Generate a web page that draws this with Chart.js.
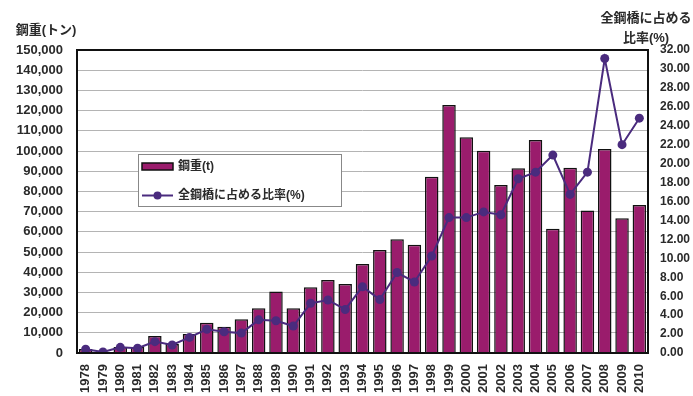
<!DOCTYPE html>
<html>
<head>
<meta charset="utf-8">
<script src="https://cdn.jsdelivr.net/npm/chart.js@4"></script>
<style>
  html, body { margin: 0; padding: 0; background: #fff; }
  #wrap { width: 693px; height: 396px; }
</style>
</head>
<body>
<div id="wrap"><canvas id="graphKoju"></canvas></div>
<script>
// 年ごとの鋼重と全鋼橋に占める比率
var annees = ["1978","1979","1980","1981","1982","1983","1984","1985","1986","1987",
              "1988","1989","1990","1991","1992","1993","1994","1995","1996","1997",
              "1998","1999","2000","2001","2002","2003","2004","2005","2006","2007",
              "2008","2009","2010"];

var koju = [2000, 500, 3000, 3000, 8400, 4500, 9400, 15000, 13000, 16700,
            22100, 30400, 22100, 32500, 36100, 34200, 44000, 51000, 56300, 53600,
            87300, 122800, 106800, 100100, 83200, 91400, 105400, 61500, 91700, 70600,
            101000, 66700, 73300];

var hiritsu = [0.4, 0.1, 0.6, 0.5, 1.2, 0.85, 1.65, 2.5, 2.25, 2.1,
               3.5, 3.4, 2.85, 5.25, 5.6, 4.6, 7.0, 5.65, 8.5, 7.5,
               10.25, 14.3, 14.3, 14.9, 14.6, 18.4, 19.1, 20.9, 16.75, 19.1,
               31.1, 22.0, 24.8];

var labelKoju = "鋼重(t)";
var labelHiritsu = "全鋼橋に占める比率(%)";

var police = "'Liberation Sans', 'Noto Sans CJK JP', sans-serif";
var couleurBarre = "#9a1c6c";
var couleurLigne = "#4a2b7e";

// cadre noir, titres des axes et légende dessinés à la main
var decor = {
    id: 'decor',
    afterDatasetsDraw: function(chart) {
        var ctx = chart.ctx;
        var a = chart.chartArea;
        ctx.save();
        ctx.strokeStyle = "#111";
        ctx.lineWidth = 2;
        ctx.strokeRect(a.left, a.top, a.right - a.left, a.bottom - a.top);

        ctx.fillStyle = "#2a2a2a";
        ctx.font = "bold 13px " + police;
        ctx.textBaseline = "middle";
        ctx.textAlign = "center";
        ctx.fillText("鋼重(トン)", 46, 30);
        ctx.fillText("全鋼橋に占める", 646, 18);
        ctx.fillText("比率(%)", 646, 38);

        // légende
        var lx = 138, ly = 154, lw = 203, lh = 52;
        ctx.fillStyle = "#fff";
        ctx.fillRect(lx, ly, lw, lh);
        ctx.strokeStyle = "#888";
        ctx.lineWidth = 1;
        ctx.strokeRect(lx + 0.5, ly + 0.5, lw, lh);

        ctx.fillStyle = couleurBarre;
        ctx.fillRect(142, 163, 31, 7);
        ctx.strokeStyle = "#111";
        ctx.lineWidth = 1.5;
        ctx.strokeRect(142, 163, 31, 7);

        ctx.strokeStyle = couleurLigne;
        ctx.lineWidth = 2;
        ctx.beginPath();
        ctx.moveTo(142, 195.5);
        ctx.lineTo(173, 195.5);
        ctx.stroke();
        ctx.fillStyle = couleurLigne;
        ctx.beginPath();
        ctx.arc(157.5, 195.5, 4, 0, Math.PI * 2);
        ctx.fill();

        ctx.fillStyle = "#2a2a2a";
        ctx.font = "bold 12px " + police;
        ctx.textAlign = "left";
        ctx.fillText(labelKoju, 178, 166.5);
        ctx.fillText(labelHiritsu, 178, 195.5);
        ctx.restore();
    }
};

var graphTarget = document.getElementById("graphKoju");

var myGraph = new Chart(graphTarget, {
    type: 'bar',
    data: {
        labels: annees,
        datasets: [
        {
            type: 'line',
            label: labelHiritsu,
            yAxisID: 'y1',
            data: hiritsu,
            borderColor: couleurLigne,
            backgroundColor: couleurLigne,
            borderWidth: 2,
            pointRadius: 4.5,
            pointBackgroundColor: couleurLigne,
            pointBorderWidth: 0,
            fill: false,
            tension: 0,
            order: 0
        },
        {
            label: labelKoju,
            yAxisID: 'y',
            data: koju,
            backgroundColor: couleurBarre,
            borderColor: "#111",
            borderWidth: 1.5,
            categoryPercentage: 0.82,
            barPercentage: 0.95,
            order: 1
        }]
    },
    options: {
        responsive: true,
        maintainAspectRatio: false,
        animation: false,
        layout: { padding: { top: 50, left: 0, right: 0, bottom: 0 } },
        plugins: {
            legend: { display: false },
            tooltip: { enabled: false }
        },
        scales: {
            x: {
                offset: true,
                grid: { display: false },
                border: { display: false },
                ticks: {
                    color: "#2a2a2a",
                    font: { family: police, size: 13, weight: 'bold' },
                    minRotation: 90,
                    maxRotation: 90,
                    padding: 3,
                    autoSkip: false
                },
                afterFit: function(scale) { scale.height = 43; }
            },
            y: {
                position: 'left',
                min: 0,
                max: 150000,
                border: { display: false },
                grid: { color: "#b4b4b4", lineWidth: 1, drawTicks: false },
                ticks: {
                    stepSize: 10000,
                    padding: 14,
                    color: "#2a2a2a",
                    font: { family: police, size: 13, weight: 'bold' },
                    callback: function(v) { return v.toLocaleString('en-US'); }
                },
                afterFit: function(scale) { scale.width = 77; }
            },
            y1: {
                position: 'right',
                min: 0,
                max: 32,
                border: { display: false },
                grid: { display: false, drawTicks: false },
                ticks: {
                    stepSize: 2,
                    padding: 12,
                    color: "#2a2a2a",
                    font: { family: police, size: 12, weight: 'bold' },
                    callback: function(v) { return v.toFixed(2); }
                },
                afterFit: function(scale) { scale.width = 45; }
            }
        }
    },
    plugins: [decor]
});
</script>
</body>
</html>
